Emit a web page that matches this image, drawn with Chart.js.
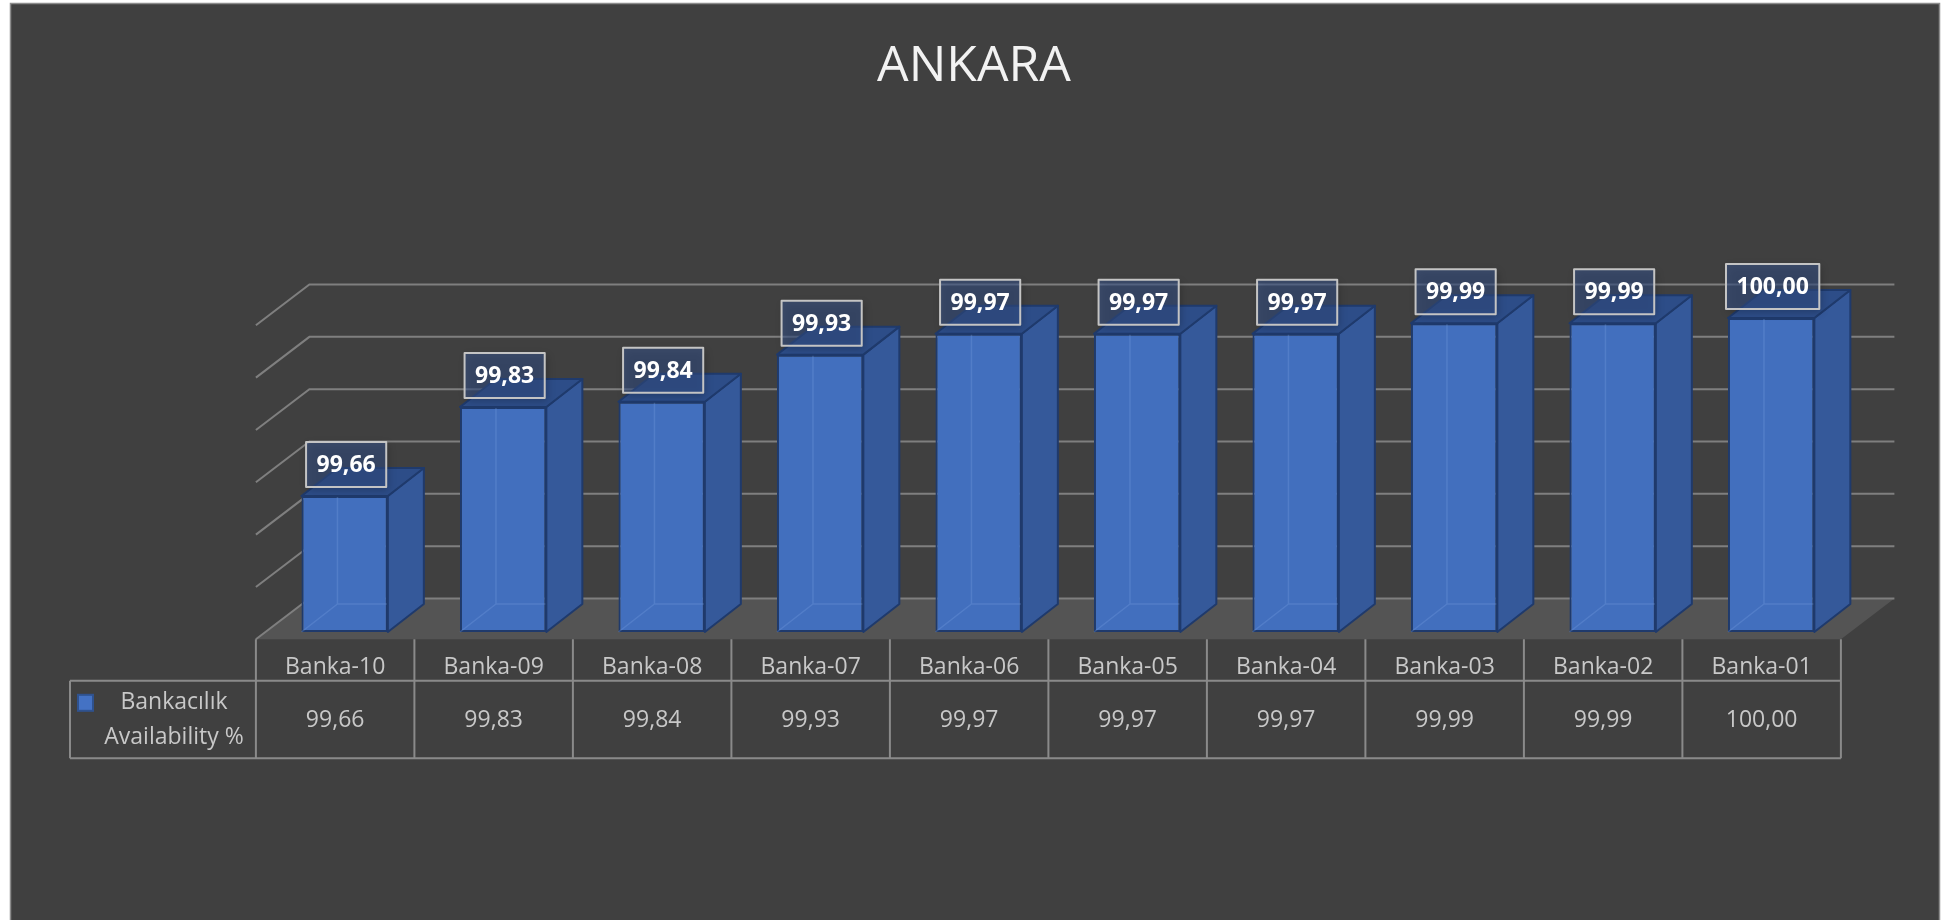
<!DOCTYPE html>
<html>
<head>
<meta charset="utf-8">
<title>ANKARA</title>
<script src="https://cdn.jsdelivr.net/npm/chart.js@4.4.1/dist/chart.umd.min.js"></script>
<style>
    html, body { margin: 0; padding: 0; background: #ffffff; }
    canvas { display: block; }
</style>
</head>
<body>
<canvas id="ankaraChart" width="1948" height="920"></canvas>
<script>
const categories = ['Banka-10', 'Banka-09', 'Banka-08', 'Banka-07', 'Banka-06', 'Banka-05', 'Banka-04', 'Banka-03', 'Banka-02', 'Banka-01'];
const availability = [99.66, 99.83, 99.84, 99.93, 99.97, 99.97, 99.97, 99.99, 99.99, 100.00];
const gridTicks = [99.4, 99.5, 99.6, 99.7, 99.8, 99.9, 100.0];
const seriesName = ['Bankacılık', 'Availability %'];

// 3D offsets, relative to the plane of the bar front faces
const FRONT = { dx: -9.5, dy: 7.3 };
const BACK = { dx: 44, dy: -33.5 };
const BAR_DEPTH = { dx: 36, dy: 28 };

function formatTr(value) {
    return value.toFixed(2).replace('.', ',');
}

const frame3d = {
    id: 'frame3d',
    beforeDraw(chart) {
        const ctx = chart.ctx;
        const area = chart.chartArea;
        const y = chart.scales.y;
        ctx.save();
        ctx.fillStyle = '#ffffff';
        ctx.fillRect(0, 0, chart.width, chart.height);
        ctx.fillStyle = '#404040';
        ctx.fillRect(10, 3, 1930, chart.height);
        ctx.strokeStyle = '#8c8c8c';
        ctx.lineWidth = 1.5;
        ctx.strokeRect(10.5, 3.5, 1929, chart.height + 10);

        // floor
        const base = y.getPixelForValue(gridTicks[0]);
        ctx.fillStyle = '#545454';
        ctx.beginPath();
        ctx.moveTo(area.left + FRONT.dx, base + FRONT.dy);
        ctx.lineTo(area.right + FRONT.dx, base + FRONT.dy);
        ctx.lineTo(area.right + BACK.dx, base + BACK.dy);
        ctx.lineTo(area.left + BACK.dx, base + BACK.dy);
        ctx.closePath();
        ctx.fill();

        // side wall + back wall gridlines
        ctx.strokeStyle = '#7f7f7f';
        ctx.lineWidth = 2;
        gridTicks.forEach(v => {
            const py = y.getPixelForValue(v);
            ctx.beginPath();
            ctx.moveTo(area.left + FRONT.dx, py + FRONT.dy);
            ctx.lineTo(area.left + BACK.dx, py + BACK.dy);
            ctx.lineTo(area.right + BACK.dx, py + BACK.dy);
            ctx.stroke();
        });
        ctx.restore();
    },
    afterDatasetsDraw(chart) {
        const ctx = chart.ctx;
        const meta = chart.getDatasetMeta(0);
        const dx = BAR_DEPTH.dx, dy = BAR_DEPTH.dy;
        ctx.save();
        meta.data.forEach((bar, i) => {
            const left = bar.x - bar.width / 2;
            const right = bar.x + bar.width / 2;
            const top = bar.y;
            const bottom = bar.base;

            // back edges seen through the front face
            ctx.strokeStyle = 'rgba(120,160,225,0.3)';
            ctx.lineWidth = 1.5;
            ctx.beginPath();
            ctx.moveTo(left + dx, top);
            ctx.lineTo(left + dx, bottom - dy);
            ctx.lineTo(right, bottom - dy);
            ctx.moveTo(left, bottom);
            ctx.lineTo(left + dx, bottom - dy);
            ctx.stroke();

            ctx.strokeStyle = '#1f3a6c';
            ctx.lineWidth = 2;
            ctx.lineJoin = 'round';

            // side
            ctx.fillStyle = '#35599a';
            ctx.beginPath();
            ctx.moveTo(right, top);
            ctx.lineTo(right + dx, top - dy);
            ctx.lineTo(right + dx, bottom - dy);
            ctx.lineTo(right, bottom);
            ctx.closePath();
            ctx.fill();
            ctx.stroke();

            // top
            ctx.fillStyle = '#2d4d88';
            ctx.beginPath();
            ctx.moveTo(left, top);
            ctx.lineTo(right, top);
            ctx.lineTo(right + dx, top - dy);
            ctx.lineTo(left + dx, top - dy);
            ctx.closePath();
            ctx.fill();
            ctx.stroke();
        });

        // data labels
        ctx.font = 'bold 23px "Open Sans"';
        ctx.textAlign = 'center';
        ctx.textBaseline = 'middle';
        meta.data.forEach((bar, i) => {
            const text = formatTr(availability[i]);
            const w = ctx.measureText(text).width + 21;
            const h = 45;
            const cx = bar.x + 1.5;
            const bottom = bar.y - 9;
            ctx.save();
            ctx.shadowColor = 'rgba(0,0,0,0.45)';
            ctx.shadowBlur = 8;
            ctx.shadowOffsetX = 2;
            ctx.shadowOffsetY = 3;
            ctx.fillStyle = 'rgba(55,85,145,0.5)';
            ctx.fillRect(cx - w / 2, bottom - h, w, h);
            ctx.restore();
            ctx.strokeStyle = '#c4c4c4';
            ctx.lineWidth = 2;
            ctx.strokeRect(cx - w / 2, bottom - h, w, h);
            ctx.fillStyle = '#ffffff';
            ctx.fillText(text, cx, bottom - h / 2 + 1);
        });
        ctx.restore();
    },
    afterDraw(chart) {
        const ctx = chart.ctx;
        const area = chart.chartArea;
        const xs = chart.scales.x;
        const base = chart.scales.y.getPixelForValue(gridTicks[0]);
        const cellW = (area.right - area.left) / categories.length;
        const tableLeft = area.left + FRONT.dx;
        const tableRight = area.right + FRONT.dx;
        const headTop = base + FRONT.dy;
        const headBottom = headTop + 41.5;
        const rowBottom = headBottom + 77.5;
        const legendLeft = 70;

        ctx.save();
        ctx.strokeStyle = '#8a8a8a';
        ctx.lineWidth = 2;
        ctx.beginPath();
        for (let i = 0; i <= categories.length; i++) {
            const x = tableLeft + i * cellW;
            ctx.moveTo(x, headTop);
            ctx.lineTo(x, rowBottom);
        }
        ctx.moveTo(legendLeft, headBottom);
        ctx.lineTo(tableRight, headBottom);
        ctx.moveTo(legendLeft, rowBottom);
        ctx.lineTo(tableRight, rowBottom);
        ctx.moveTo(legendLeft, headBottom);
        ctx.lineTo(legendLeft, rowBottom);
        ctx.stroke();

        ctx.font = '23px "Open Sans"';
        ctx.fillStyle = '#c8c8c8';
        ctx.textAlign = 'center';
        ctx.textBaseline = 'middle';
        categories.forEach((label, i) => {
            const cx = xs.getPixelForValue(i) + FRONT.dx;
            ctx.fillText(label, cx, headTop + 28);
            ctx.fillText(formatTr(availability[i]), cx, headBottom + 39.5);
        });

        // legend key
        ctx.fillStyle = '#4472c4';
        ctx.strokeStyle = '#2f528f';
        ctx.lineWidth = 2;
        ctx.fillRect(78, headBottom + 14, 15, 16);
        ctx.strokeRect(78, headBottom + 14, 15, 16);
        ctx.fillStyle = '#c8c8c8';
        ctx.fillText(seriesName[0], 174, headBottom + 21.5);
        ctx.fillText(seriesName[1], 174, headBottom + 56.5);
        ctx.restore();
    }
};

document.addEventListener('DOMContentLoaded', function () {
    const ctx = document.getElementById('ankaraChart').getContext('2d');
    new Chart(ctx, {
        type: 'bar',
        data: {
            labels: categories,
            datasets: [{
                label: seriesName.join(' '),
                data: availability,
                base: gridTicks[0],
                backgroundColor: '#426fbe',
                borderColor: '#1f3a6c',
                borderWidth: 2,
                borderSkipped: false,
                categoryPercentage: 1,
                barPercentage: 0.545
            }]
        },
        options: {
            responsive: false,
            animation: false,
            devicePixelRatio: 1,
            layout: {
                padding: { left: 97.6, right: 97.6, top: 0, bottom: 288 }
            },
            plugins: {
                legend: { display: false },
                tooltip: { enabled: false },
                title: {
                    display: true,
                    text: 'ANKARA',
                    color: '#f2f2f2',
                    font: { family: 'Open Sans', size: 50, weight: 'normal', lineHeight: 1.2 },
                    padding: { top: 37, bottom: 221 }
                }
            },
            scales: {
                x: { display: false },
                y: {
                    min: 99.4,
                    max: 100,
                    grid: { display: false },
                    border: { display: false },
                    ticks: { display: false },
                    // empty space left of the plot, keeps the title centred on the page
                    afterFit: function (scale) {
                        scale.width = 167.8;
                    }
                }
            }
        },
        plugins: [frame3d]
    });
});
</script>
</body>
</html>
